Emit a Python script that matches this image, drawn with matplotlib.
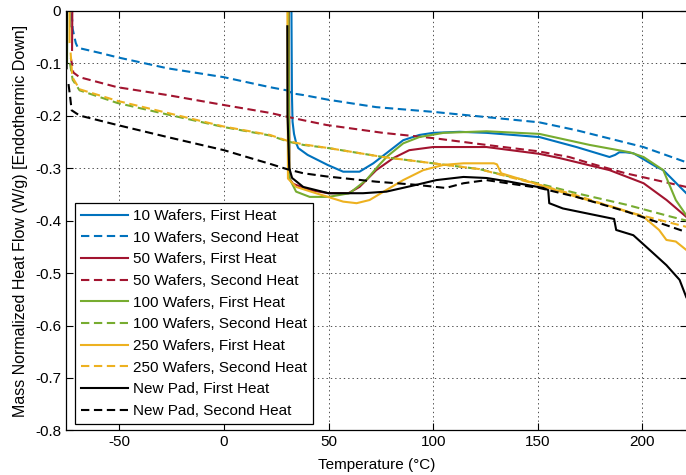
import matplotlib
matplotlib.use("Agg")
import matplotlib.pyplot as plt
import numpy as np

nan = np.nan

# First heat (solid). NaN splits the start transient from the main trace.
w10_first_x = [-73.5, -73.3, nan, 32.2, 32.5, 32.8, 33.5, 34.5, 35.5, 40, 49.5, 57, 64.8, 71.4, 77.6, 85.7, 93.4, 100, 112.6, 125.5, 150.8, 168.5, 184.3, 187, 189, 192, 195.8, 206.8, 210, 221]
w10_first_y = [-0.03, 0.05, nan, 0.05, -0.16, -0.212, -0.235, -0.252, -0.262, -0.275, -0.294, -0.307, -0.307, -0.291, -0.272, -0.247, -0.237, -0.233, -0.231, -0.233, -0.241, -0.26, -0.279, -0.275, -0.27, -0.27, -0.272, -0.298, -0.304, -0.348]

w10_second_x = [-72.9, -72.5, -72.3, -71.5, -70.8, -69.8, -59, -51, -27, 0, 22, 30, 33, 38, 50, 72.8, 100, 125.5, 150.8, 168.5, 200.5, 221]
w10_second_y = [-0.005, -0.02, -0.035, -0.05, -0.062, -0.071, -0.081, -0.089, -0.11, -0.127, -0.146, -0.152, -0.158, -0.161, -0.17, -0.184, -0.193, -0.203, -0.213, -0.228, -0.26, -0.289]

w50_first_x = [-72.6, -72.4, nan, 31.0, 31.3, 33, 41, 50, 59.5, 64.8, 72.8, 81, 88.6, 100, 125.5, 150.8, 160.4, 184.3, 200.6, 211.6, 221]
w50_first_y = [-0.075, 0.05, nan, 0.05, -0.32, -0.33, -0.342, -0.348, -0.348, -0.336, -0.304, -0.281, -0.266, -0.26, -0.26, -0.273, -0.281, -0.304, -0.329, -0.361, -0.393]

w50_second_x = [-73.2, -72.5, -72, -69, -51, -27, 0, 22, 31, 38, 49, 76, 100, 125.5, 150, 165, 175, 192, 221]
w50_second_y = [-0.09, -0.105, -0.118, -0.127, -0.146, -0.161, -0.18, -0.195, -0.203, -0.209, -0.218, -0.233, -0.243, -0.256, -0.268, -0.279, -0.291, -0.31, -0.336]

w100_first_x = [-75.0, -74.8, nan, 30.8, 31.3, 34.5, 41, 50, 60, 68, 74, 78, 85.7, 93.4, 105, 125.5, 150.8, 174.8, 194, 200.6, 210, 216, 221]
w100_first_y = [-0.1, 0.05, nan, 0.05, -0.32, -0.345, -0.355, -0.355, -0.348, -0.323, -0.295, -0.278, -0.253, -0.241, -0.233, -0.23, -0.235, -0.256, -0.27, -0.279, -0.304, -0.361, -0.39]

w100_second_x = [-73.6, -72.8, -72.3, -69, -51, -27, 0, 22, 31, 38, 50, 76, 100, 122, 150.8, 168.5, 192.5, 214, 221]
w100_second_y = [-0.1, -0.12, -0.132, -0.152, -0.176, -0.198, -0.222, -0.238, -0.25, -0.256, -0.262, -0.279, -0.291, -0.302, -0.33, -0.348, -0.37, -0.393, -0.40]

w250_first_x = [-73.8, -73.6, nan, 30.3, 30.6, 34.5, 44, 57, 63.4, 69.6, 77.6, 85.7, 95.3, 105, 114.5, 129, 130.5, 132.5, 150.8, 168.5, 187.6, 200.6, 208, 211.5, 216, 221]
w250_first_y = [-0.06, 0.05, nan, 0.05, -0.32, -0.336, -0.348, -0.364, -0.367, -0.361, -0.342, -0.323, -0.304, -0.294, -0.291, -0.291, -0.293, -0.31, -0.332, -0.355, -0.376, -0.393, -0.418, -0.437, -0.44, -0.456]

w250_second_x = [-73.3, -72.6, -72, -69, -51, -27, 0, 22, 31, 38, 50, 76, 100, 122, 150.8, 168.5, 192.5, 221]
w250_second_y = [-0.08, -0.12, -0.13, -0.15, -0.172, -0.195, -0.221, -0.237, -0.249, -0.255, -0.262, -0.279, -0.291, -0.302, -0.332, -0.352, -0.383, -0.412]

pad_first_x = [-75.2, -75.0, nan, 30.3, 30.4, 31.2, 32.6, 37.9, 50, 66.5, 77.6, 92, 101.5, 114.5, 125.5, 136.5, 152.7, 155, 155.5, 162, 184, 186.5, 187.5, 195.7, 203.5, 211.5, 217.8, 221]
pad_first_y = [-0.11, 0.05, nan, -0.03, -0.2, -0.3, -0.319, -0.336, -0.348, -0.348, -0.345, -0.332, -0.323, -0.317, -0.319, -0.326, -0.338, -0.342, -0.367, -0.377, -0.395, -0.397, -0.418, -0.428, -0.456, -0.485, -0.513, -0.546]

pad_second_x = [-74.3, -73.5, -72.8, -69, -51, -27, 0, 16, 22, 30, 38, 49, 72.8, 92, 106, 114.5, 125.5, 150.8, 168.5, 192.5, 221]
pad_second_y = [-0.14, -0.165, -0.19, -0.2, -0.218, -0.241, -0.266, -0.285, -0.292, -0.302, -0.31, -0.316, -0.326, -0.332, -0.338, -0.329, -0.323, -0.338, -0.355, -0.383, -0.422]

labels = ["10 Wafers, First Heat", "10 Wafers, Second Heat",
          "50 Wafers, First Heat", "50 Wafers, Second Heat",
          "100 Wafers, First Heat", "100 Wafers, Second Heat",
          "250 Wafers, First Heat", "250 Wafers, Second Heat",
          "New Pad, First Heat", "New Pad, Second Heat"]

series = [(w10_first_x, w10_first_y), (w10_second_x, w10_second_y),
          (w50_first_x, w50_first_y), (w50_second_x, w50_second_y),
          (w100_first_x, w100_first_y), (w100_second_x, w100_second_y),
          (w250_first_x, w250_first_y), (w250_second_x, w250_second_y),
          (pad_first_x, pad_first_y), (pad_second_x, pad_second_y)]

colors = ["#0072BD", "#A2142F", "#77AC30", "#EDB120", "#000000"]

plt.rcParams["font.family"] = ["Liberation Sans", "DejaVu Sans"]
plt.rcParams["axes.unicode_minus"] = False

fig = plt.figure(figsize=(6.86, 4.75), dpi=100)
ax = fig.add_axes([0.0962, 0.0937, 0.9048, 0.8841])

for i, (xs, ys) in enumerate(series):
    c = colors[i // 2]
    if i % 2 == 0:
        ax.plot(xs, ys, color=c, linewidth=1.5, label=labels[i])
    else:
        ax.plot(xs, ys, color=c, linewidth=1.5, dashes=(4, 2.2), label=labels[i])

ax.set_xlim(-75.5, 221.2)
ax.set_ylim(-0.8, 0)
ax.set_xticks([-50, 0, 50, 100, 150, 200])
ax.set_yticks(np.arange(-0.8, 0.01, 0.1))
ax.set_yticklabels(["-0.8", "-0.7", "-0.6", "-0.5", "-0.4", "-0.3", "-0.2", "-0.1", "0"])
ax.tick_params(direction="in", top=True, right=True, length=5, labelsize=11, width=0.8)
ax.grid(True, color="0.25", linewidth=0.65, linestyle=(0, (1.5, 3.3)))
for s in ax.spines.values():
    s.set_linewidth(0.9)

ax.set_xlabel("Temperature (\u00b0C)", fontsize=11, labelpad=6)
ax.set_ylabel("Mass Normalized Heat Flow (W/g) [Endothermic Down]", fontsize=11.5, labelpad=5)

leg = ax.legend(loc="lower left", bbox_to_anchor=(0.0145, 0.0155), borderaxespad=0,
                fontsize=11, labelspacing=0.5, handlelength=3.1, handletextpad=0.3,
                fancybox=False, framealpha=1, edgecolor="black", borderpad=0.4)
leg.get_frame().set_linewidth(0.9)

fig.savefig("out.png", dpi=100)
